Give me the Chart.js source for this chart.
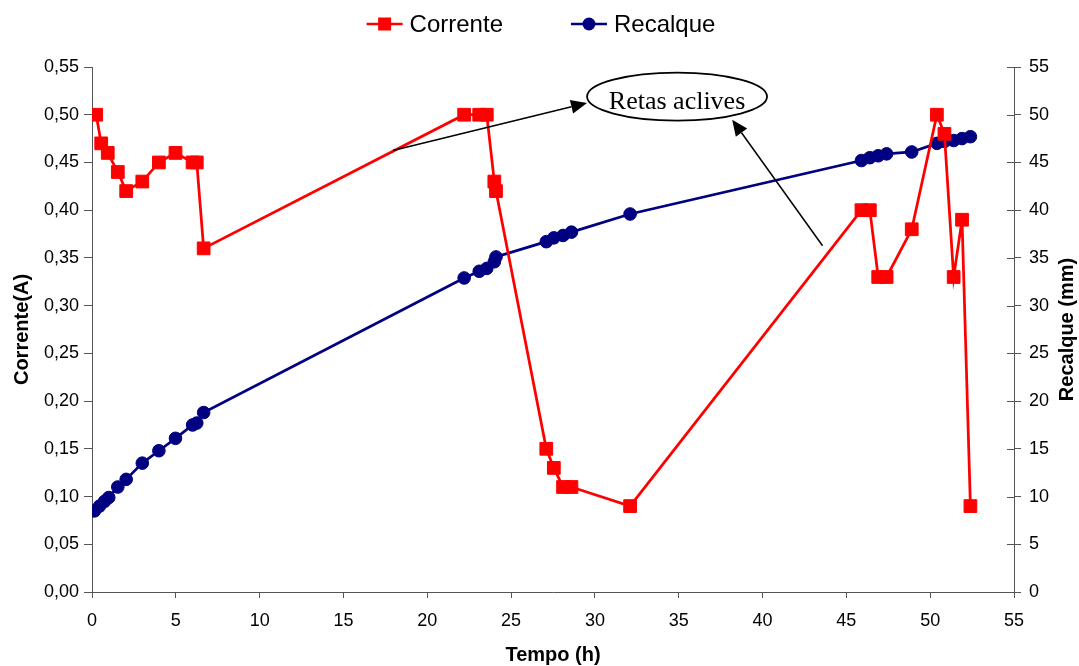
<!DOCTYPE html>
<html>
<head>
<meta charset="utf-8">
<script src="https://cdn.jsdelivr.net/npm/chart.js@4"></script>
<style>
  html, body { margin: 0; padding: 0; background: #ffffff; }
  #wrap { width: 1079px; height: 666px; }
</style>
</head>
<body>
<div id="wrap"><canvas id="c" width="1079" height="666"></canvas></div>
<script>
// Corrente (A) over time
const tempoCorrente = [0.25, 0.55, 0.94, 1.54, 2.04, 3.0, 3.99, 4.98, 6.0, 6.25, 6.66,
  22.2, 23.1, 23.55, 24.0, 24.1,
  27.1, 27.55, 28.1, 28.6, 32.1,
  45.9, 46.4, 46.9, 47.4, 48.9,
  50.4, 50.85, 51.4, 51.9, 52.4];
const corrente = [0.50, 0.47, 0.46, 0.44, 0.42, 0.43, 0.45, 0.46, 0.45, 0.45, 0.36,
  0.50, 0.50, 0.50, 0.43, 0.42,
  0.15, 0.13, 0.11, 0.11, 0.09,
  0.40, 0.40, 0.33, 0.33, 0.38,
  0.50, 0.48, 0.33, 0.39, 0.09];

// Recalque (mm) over time
const tempoRecalque = [0.15, 0.45, 0.75, 1.0, 1.54, 2.04, 3.0, 3.99, 4.98, 6.0, 6.25, 6.66,
  22.2, 23.1, 23.55, 24.0, 24.1,
  27.1, 27.55, 28.1, 28.6, 32.1,
  45.9, 46.4, 46.9, 47.4, 48.9,
  50.4, 50.85, 51.4, 51.9, 52.4];
const recalque = [8.5, 9.0, 9.5, 9.9, 11.0, 11.8, 13.5, 14.8, 16.1, 17.5, 17.7, 18.8,
  32.9, 33.6, 33.9, 34.6, 35.1,
  36.7, 37.1, 37.35, 37.7, 39.6,
  45.2, 45.5, 45.7, 45.9, 46.1,
  47.0, 47.2, 47.3, 47.5, 47.7];

// Axis tick values
const ticksTempo = [0, 5, 10, 15, 20, 25, 30, 35, 40, 45, 50, 55];
const ticksCorrente = [0, 0.05, 0.10, 0.15, 0.20, 0.25, 0.30, 0.35, 0.40, 0.45, 0.50, 0.55];
const ticksRecalque = [0, 5, 10, 15, 20, 25, 30, 35, 40, 45, 50, 55];

const SANS = "'Liberation Sans', Arial, Helvetica, sans-serif";
const SERIF = "'Liberation Serif', 'Times New Roman', serif";
const AXIS = '#555555';

// Callout: ellipse label with two arrows, anchored in data units
const callout = {
  text: 'Retas aclives',
  center: { x: 34.9, y: 0.519 },
  arrows: [
    { from: { x: 17.95, y: 0.4626 }, to: { x: 29.53, y: 0.5123 } },
    { from: { x: 43.58, y: 0.3627 }, to: { x: 38.19, y: 0.4948 } }
  ]
};

const pts = (xs, ys) => xs.map((x, i) => ({ x: x, y: ys[i] }));

function fixTicks(values) {
  return function (scale) { scale.ticks = values.map(v => ({ value: v })); };
}

const overlayPlugin = {
  id: 'overlay',
  afterDraw(chart) {
    const ctx = chart.ctx;
    const xs = chart.scales.x, ys = chart.scales.y, y2 = chart.scales.y2;
    const area = chart.chartArea;

    // inner half of the right axis tick marks
    ctx.save();
    ctx.strokeStyle = AXIS;
    ctx.lineWidth = 1;
    y2.ticks.forEach(t => {
      const py = Math.round(y2.getPixelForValue(t.value)) + 0.5;
      ctx.beginPath();
      ctx.moveTo(area.right - 7, py);
      ctx.lineTo(area.right, py);
      ctx.stroke();
    });
    ctx.restore();

    // right axis title, reading bottom to top
    ctx.save();
    ctx.translate(1067, (area.top + area.bottom) / 2);
    ctx.rotate(-Math.PI / 2);
    ctx.font = 'bold 20px ' + SANS;
    ctx.fillStyle = '#000';
    ctx.textAlign = 'center';
    ctx.textBaseline = 'middle';
    ctx.fillText('Recalque (mm)', 0, 0);
    ctx.restore();

    // arrows of the callout
    ctx.save();
    ctx.strokeStyle = '#000';
    ctx.fillStyle = '#000';
    ctx.lineWidth = 1.5;
    callout.arrows.forEach(a => {
      const x0 = xs.getPixelForValue(a.from.x), y0 = ys.getPixelForValue(a.from.y);
      const x1 = xs.getPixelForValue(a.to.x), y1 = ys.getPixelForValue(a.to.y);
      const ang = Math.atan2(y1 - y0, x1 - x0);
      const len = 16, half = 7;
      const bx = x1 - len * Math.cos(ang), by = y1 - len * Math.sin(ang);
      ctx.beginPath();
      ctx.moveTo(x0, y0);
      ctx.lineTo(bx, by);
      ctx.stroke();
      ctx.beginPath();
      ctx.moveTo(x1, y1);
      ctx.lineTo(bx + half * Math.sin(ang), by - half * Math.cos(ang));
      ctx.lineTo(bx - half * Math.sin(ang), by + half * Math.cos(ang));
      ctx.closePath();
      ctx.fill();
    });

    // ellipse with label
    const cx = xs.getPixelForValue(callout.center.x);
    const cy = ys.getPixelForValue(callout.center.y);
    ctx.beginPath();
    ctx.ellipse(cx, cy, 90, 24, 0, 0, Math.PI * 2);
    ctx.fillStyle = '#fff';
    ctx.fill();
    ctx.lineWidth = 1.8;
    ctx.stroke();
    ctx.fillStyle = '#000';
    ctx.font = '26px ' + SERIF;
    ctx.textAlign = 'center';
    ctx.textBaseline = 'alphabetic';
    ctx.fillText(callout.text, cx, cy + 12);
    ctx.restore();

    // legend: line sample with marker, then label
    ctx.save();
    ctx.font = '24px ' + SANS;
    ctx.textBaseline = 'middle';
    const sample = 36, gapText = 7, gapItem = 68, ly = 24;
    const items = chart.data.datasets;
    const widths = items.map(d => sample + gapText + ctx.measureText(d.label).width);
    const total = widths.reduce((s, w) => s + w, 0) + gapItem * (items.length - 1);
    let lx = 541 - total / 2;
    items.forEach((d, i) => {
      ctx.strokeStyle = d.borderColor;
      ctx.lineWidth = 2.5;
      ctx.beginPath();
      ctx.moveTo(lx, ly);
      ctx.lineTo(lx + sample, ly);
      ctx.stroke();
      ctx.fillStyle = d.pointBackgroundColor;
      const mx = lx + sample / 2;
      if (d.pointStyle === 'rect') {
        ctx.fillRect(mx - 6.5, ly - 6.5, 13, 13);
      } else {
        ctx.beginPath();
        ctx.arc(mx, ly, 6.5, 0, Math.PI * 2);
        ctx.fill();
      }
      ctx.fillStyle = '#000';
      ctx.textAlign = 'left';
      ctx.fillText(d.label, lx + sample + gapText, ly + 1);
      lx += widths[i] + gapItem;
    });
    ctx.restore();
  }
};

new Chart(document.getElementById('c'), {
  type: 'line',
  data: {
    datasets: [
      {
        label: 'Corrente',
        data: pts(tempoCorrente, corrente),
        yAxisID: 'y',
        borderColor: '#ff0000',
        backgroundColor: '#ff0000',
        pointBackgroundColor: '#ff0000',
        pointBorderColor: '#ff0000',
        pointStyle: 'rect',
        pointRadius: 9,
        pointBorderWidth: 1,
        borderWidth: 2.75,
        tension: 0
      },
      {
        label: 'Recalque',
        data: pts(tempoRecalque, recalque),
        yAxisID: 'y2',
        borderColor: '#000080',
        backgroundColor: '#000080',
        pointBackgroundColor: '#000080',
        pointBorderColor: '#000080',
        pointStyle: 'circle',
        pointRadius: 6.3,
        pointBorderWidth: 1,
        borderWidth: 2.75,
        tension: 0
      }
    ]
  },
  options: {
    responsive: false,
    animation: false,
    events: [],
    layout: { padding: { top: 67, left: 0, right: 0, bottom: 0 } },
    plugins: {
      legend: { display: false },
      tooltip: { enabled: false }
    },
    scales: {
      x: {
        type: 'linear',
        min: 0, max: 55,
        afterBuildTicks: fixTicks(ticksTempo),
        afterFit(s) { s.height = 74; },
        grid: { drawOnChartArea: false, color: AXIS, tickLength: 6 },
        border: { color: AXIS, width: 1 },
        ticks: {
          color: '#000', padding: 12,
          font: { family: SANS, size: 18 },
          maxRotation: 0,
          callback: v => String(v)
        },
        title: {
          display: true, text: 'Tempo (h)', color: '#000',
          font: { family: SANS, size: 20, weight: 'bold' },
          padding: { top: 0, bottom: -1 }
        }
      },
      y: {
        type: 'linear', position: 'left',
        min: 0, max: 0.55,
        afterBuildTicks: fixTicks(ticksCorrente),
        afterFit(s) { s.width = 92; },
        grid: { drawOnChartArea: false, color: AXIS, tickLength: 8 },
        border: { color: AXIS, width: 1 },
        ticks: {
          color: '#000', padding: 5,
          font: { family: SANS, size: 18 },
          callback: v => v.toFixed(2).replace('.', ',')
        },
        title: {
          display: true, text: 'Corrente(A)', color: '#000',
          font: { family: SANS, size: 20, weight: 'bold' },
          padding: { top: 10, bottom: 0 }
        }
      },
      y2: {
        type: 'linear', position: 'right',
        min: 0, max: 55,
        afterBuildTicks: fixTicks(ticksRecalque),
        afterFit(s) { s.width = 65; },
        grid: { drawOnChartArea: false, color: AXIS, tickLength: 7 },
        border: { color: AXIS, width: 1 },
        ticks: {
          color: '#000', padding: 8,
          font: { family: SANS, size: 18 },
          callback: v => String(v)
        }
      }
    }
  },
  plugins: [overlayPlugin]
});
</script>
</body>
</html>
